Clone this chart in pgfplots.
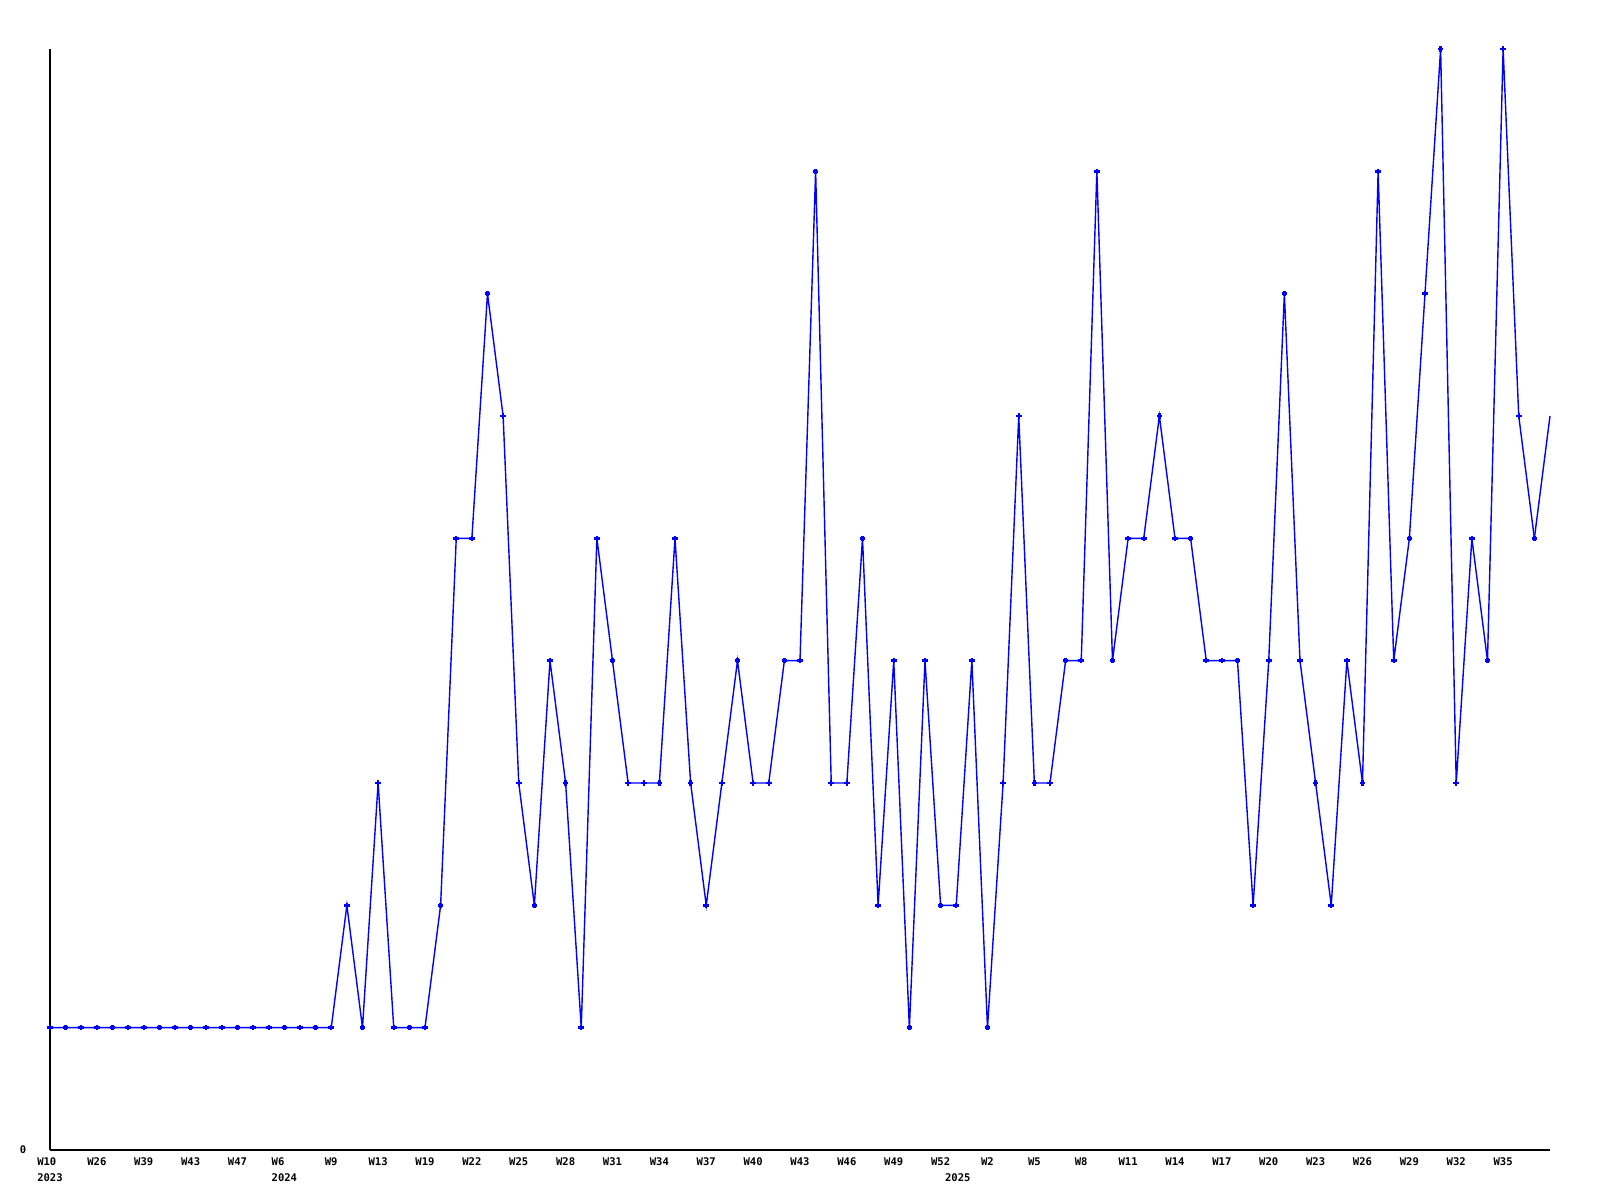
\documentclass[border=0pt]{standalone}
\usepackage{pgfplots}
\pgfplotsset{compat=1.18}
\usepackage{fontspec}
\newfontfamily\labfont{DejaVu Sans Mono}
\begin{document}
\begin{tikzpicture}
\useasboundingbox[fill=white] (0,0) rectangle (16cm,12cm);
\begin{axis}[
  at={(0.5cm,0.5cm)}, anchor=south west,
  scale only axis, width=15cm, height=11.01cm,
  xmin=0, xmax=96, ymin=0, ymax=9,
  axis lines=left, axis line style={-, black, line width=0.6pt},
  major tick length=0pt,
  xtick={0,3,...,93},
  xticklabels={{W10\\2023},W26,W39,W43,W47,{W6\\2024},W9,W13,W19,W22,W25,W28,W31,W34,W37,W40,W43,W46,W49,W52,{W2\\\hspace*{-0.36cm}2025},W5,W8,W11,W14,W17,W20,W23,W26,W29,W32,W35},
  ytick={0}, yticklabels={0},
  xticklabel style={font=\labfont\bfseries\fontsize{3}{4.5}\selectfont, align=left, anchor=north, inner sep=0pt, yshift=-0.07cm},
  yticklabel style={font=\labfont\bfseries\fontsize{3}{4.5}\selectfont, inner sep=0pt, xshift=-0.23cm},
  clip=false,
]
\addplot[color={rgb,255:red,0;green,0;blue,255}, line width=0.4pt, mark=+, mark size=0.8pt, mark options={line width=0.7pt}] coordinates {
(0,1)(1,1)(2,1)(3,1)(4,1)(5,1)(6,1)(7,1)(8,1)(9,1)(10,1)(11,1)(12,1)(13,1)(14,1)(15,1)(16,1)(17,1)(18,1)
(19,2)(20,1)(21,3)(22,1)(23,1)(24,1)(25,2)(26,5)(27,5)(28,7)(29,6)
(30,3)(31,2)(32,4)(33,3)(34,1)(35,5)(36,4)(37,3)(38,3)(39,3)
(40,5)(41,3)(42,2)(43,3)(44,4)(45,3)(46,3)(47,4)(48,4)(49,8)
(50,3)(51,3)(52,5)(53,2)(54,4)(55,1)(56,4)(57,2)(58,2)(59,4)
(60,1)(61,3)(62,6)(63,3)(64,3)(65,4)(66,4)(67,8)(68,4)(69,5)
(70,5)(71,6)(72,5)(73,5)(74,4)(75,4)(76,4)(77,2)(78,4)(79,7)
(80,4)(81,3)(82,2)(83,4)(84,3)(85,8)(86,4)(87,5)(88,7)(89,9)
(90,3)(91,5)(92,4)(93,9)(94,6)(95,5)
};
\addplot[color={rgb,255:red,0;green,0;blue,255}, line width=0.4pt] coordinates {(95,5)(96,6)};
\end{axis}
\end{tikzpicture}
\end{document}
